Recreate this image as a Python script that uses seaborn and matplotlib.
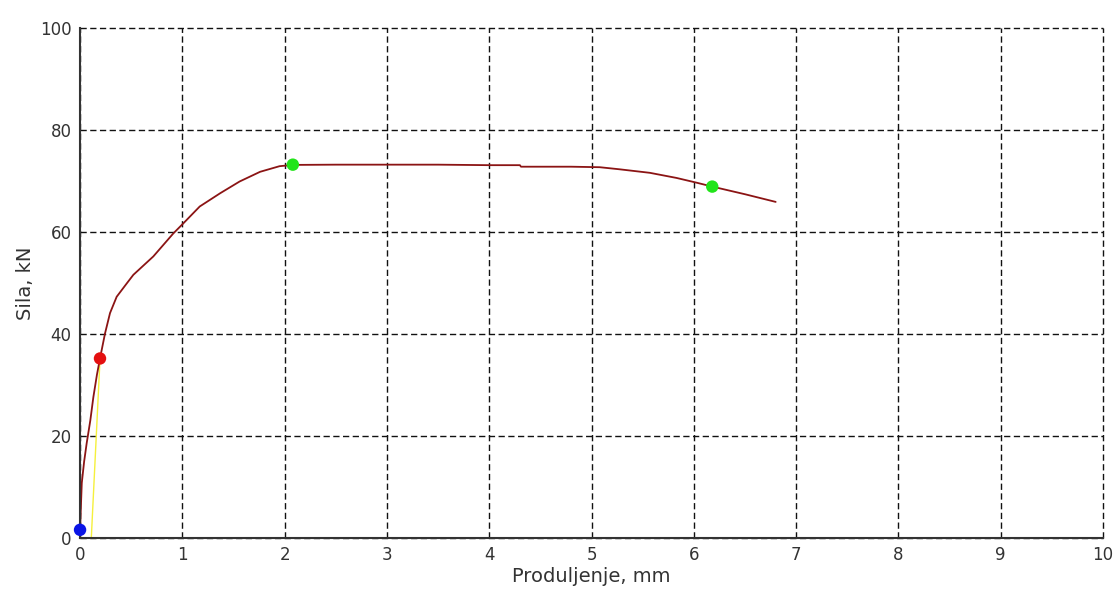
import matplotlib
matplotlib.use("Agg")
import matplotlib.pyplot as plt
import seaborn as sns
import pandas as pd

# force-elongation curve
elong = [0, 0.003, 0.008, 0.017, 0.04, 0.065, 0.10, 0.13, 0.165, 0.195, 0.244, 0.293,
         0.358, 0.456, 0.521, 0.716, 0.911, 1.01, 1.17, 1.37, 1.56, 1.76, 1.95, 2.08,
         2.5, 3.0, 3.5, 4.0, 4.3, 4.31, 4.8, 5.08, 5.27, 5.57, 5.83, 6.02, 6.18, 6.5, 6.8]
force = [0, 3, 6, 10.8, 15, 18.6, 23, 27.6, 32, 35.2, 40.1, 44.1,
         47.3, 49.9, 51.6, 55.2, 59.7, 61.7, 65.0, 67.6, 69.9, 71.8, 72.9, 73.15,
         73.2, 73.2, 73.2, 73.1, 73.1, 72.8, 72.8, 72.7, 72.3, 71.6, 70.6, 69.7, 68.9, 67.4, 65.9]

# offset (yellow) line
offset_x = [0.11, 0.195]
offset_y = [0, 35]

# marked points
pt_x = [0, 0.195, 2.08, 6.18]
pt_y = [1.6, 35.2, 73.2, 68.9]
pt_col = ["#0a14e6", "#e41010", "#22e41a", "#22e41a"]

curve = pd.DataFrame({"x": elong, "y": force})
offs = pd.DataFrame({"x": offset_x, "y": offset_y})
pts = pd.DataFrame({"x": pt_x, "y": pt_y, "c": pt_col})

sns.set_style("white")
plt.rcParams["font.family"] = ["DejaVu Sans"]

fig = plt.figure(figsize=(11.18, 5.94), dpi=100)
ax = fig.add_axes([0.0716, 0.0943, 0.9150, 0.8586])

sns.lineplot(data=offs, x="x", y="y", color="#f5f03c", lw=1.0, ax=ax,
             sort=False, estimator=None)
sns.lineplot(data=curve, x="x", y="y", color="#8b1414", lw=1.3, ax=ax,
             sort=False, estimator=None)
sns.scatterplot(data=pts, x="x", y="y", hue="c", palette=dict(zip(pt_col, pt_col)),
                s=80, edgecolor="none", legend=False, ax=ax, zorder=5, clip_on=False)

ax.set_xlim(0, 10)
ax.set_ylim(0, 100)
ax.set_xticks(range(0, 11))
ax.set_yticks(range(0, 101, 20))
ax.grid(True, color="#111111", linestyle=(0, (4.5, 2.5)), lw=1.0)
for gl in ax.get_xgridlines() + ax.get_ygridlines():
    gl.set_clip_on(False)
for s in ["top", "right"]:
    ax.spines[s].set_visible(False)
for s in ["left", "bottom"]:
    ax.spines[s].set_color("#333333")
    ax.spines[s].set_linewidth(1.5)
    ax.spines[s].set_zorder(3)
ax.tick_params(length=0, labelsize=12, colors="#333333", pad=6)
ax.set_xlabel("Produljenje, mm", fontsize=14, color="#333333", labelpad=2)
ax.set_ylabel("Sila, kN", fontsize=14, color="#333333", labelpad=4)

fig.savefig("out.png", dpi=100)
